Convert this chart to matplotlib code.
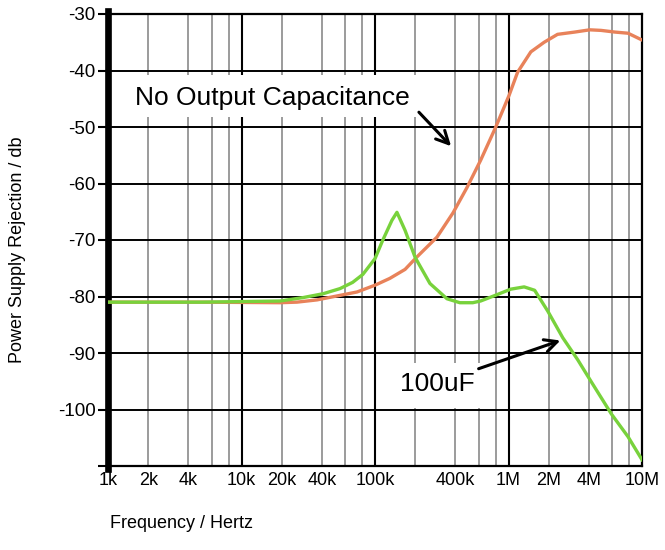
import matplotlib
matplotlib.use("Agg")
import matplotlib.pyplot as plt
from matplotlib.patches import Rectangle
import numpy as np

plt.rcParams['font.family'] = ['Liberation Sans', 'DejaVu Sans']

# Data
freq_no_cap = [1e3, 5e3, 19.4e3, 26e3, 36.8e3, 54.7e3, 73.3e3, 100e3, 129e3, 168e3, 206e3,
               291e3, 384e3, 489e3, 618e3, 803e3, 1.01e6, 1.17e6, 1.47e6, 1.85e6, 2.33e6,
               3.13e6, 4.06e6, 4.93e6, 6.28e6, 7.85e6, 10e6]
psr_no_cap = [-81.0, -81.0, -81.1, -81.0, -80.6, -79.8, -79.2, -78.0, -76.8, -75.2, -73.0,
              -69.5, -65.2, -60.7, -55.9, -50.0, -44.4, -40.3, -36.7, -35.0, -33.6,
              -33.2, -32.8, -32.9, -33.2, -33.4, -34.6]

freq_100uF = [1e3, 5e3, 19.4e3, 28.8e3, 41e3, 54.7e3, 68e3, 81e3, 100e3, 114e3, 134e3, 146e3,
              168e3, 200e3, 258e3, 346e3, 432e3, 540e3, 618e3, 776e3, 1.04e6, 1.31e6, 1.57e6,
              1.97e6, 2.55e6, 3.3e6, 4.17e6, 5.9e6, 7.85e6, 10e6]
psr_100uF = [-81.0, -81.0, -80.8, -80.2, -79.5, -78.6, -77.5, -76.1, -73.3, -70.1, -66.5, -65.1,
             -68.3, -73.1, -77.7, -80.4, -81.1, -81.1, -80.8, -79.9, -78.7, -78.3, -78.9,
             -82.6, -87.3, -91.2, -95.1, -100.8, -104.8, -108.9]

x_tick_vals = [1e3, 2e3, 4e3, 1e4, 2e4, 4e4, 1e5, 4e5, 1e6, 2e6, 4e6, 1e7]
x_tick_labels = ['1k', '2k', '4k', '10k', '20k', '40k', '100k', '400k', '1M', '2M', '4M', '10M']
y_tick_vals = [-30, -40, -50, -60, -70, -80, -90, -100, -110]
y_tick_labels = ['-30', '-40', '-50', '-60', '-70', '-80', '-90', '-100', '']

fig = plt.figure(figsize=(6.65, 5.5), dpi=100)
ax = fig.add_axes([108/665, 1 - 466/550, (642-108)/665, (466-14)/550])
ax.set_xscale('log')
ax.set_xlim(1e3, 1e7)
ax.set_ylim(-110, -30)

# grid: minor grey at 2,4,6,8 of each decade; decades black; horizontal black every 10
for dec in [1e3, 1e4, 1e5, 1e6]:
    for m in [2, 4, 6, 8]:
        ax.axvline(dec*m, color='#8a8a8a', lw=1.2, zorder=1)
for dec in [1e4, 1e5, 1e6]:
    ax.axvline(dec, color='black', lw=1.5, zorder=1)
for y in range(-100, -30, 10):
    ax.axhline(y, color='black', lw=1.4, zorder=1)

# white label backgrounds (axes fraction)
ax.add_patch(Rectangle((0.004, 0.772), 0.59, 0.093, transform=ax.transAxes,
                       facecolor='white', edgecolor='none', zorder=2))
ax.add_patch(Rectangle((0.513, 0.128), 0.187, 0.100, transform=ax.transAxes,
                       facecolor='white', edgecolor='none', zorder=2))

ax.plot(freq_no_cap, psr_no_cap, color='#E8825A', lw=2.4, zorder=3)
ax.plot(freq_100uF, psr_100uF, color='#78D23C', lw=2.4, zorder=4)

ax.set_xticks(x_tick_vals)
ax.set_xticklabels(x_tick_labels, fontsize=13)
ax.xaxis.set_minor_locator(matplotlib.ticker.NullLocator())
ax.tick_params(axis='x', length=0, pad=4)
ax.set_yticks(y_tick_vals)
ax.set_yticklabels(y_tick_labels, fontsize=13.5)
ax.tick_params(axis='y', length=7, width=1.5, direction='out', pad=2)

for side in ['top', 'right', 'bottom']:
    ax.spines[side].set_linewidth(1.6)
    ax.spines[side].set_color('black')
ax.spines['left'].set_linewidth(4.8)
ax.spines['left'].set_bounds(-110.6, -29.5)

ax.annotate('', xy=(10**(3 + (453-108)/133.5), -30 - (148-14)/5.64),
            xytext=(10**(3 + (417-108)/133.5), -30 - (110-14)/5.64),
            arrowprops=dict(arrowstyle='->,head_length=0.9,head_width=0.45', color='black', lw=2.2),
            zorder=6)
ax.text(10**(3 + (135-108)/133.5), -30 - (98-14)/5.64, 'No Output Capacitance',
        fontsize=19, ha='left', va='center', zorder=7)

ax.annotate('', xy=(10**(3 + (563-108)/133.5), -30 - (339-14)/5.64),
            xytext=(10**(3 + (476-108)/133.5), -30 - (369-14)/5.64),
            arrowprops=dict(arrowstyle='->,head_length=0.9,head_width=0.45', color='black', lw=2.2),
            zorder=6)
ax.text(10**(3 + (400-108)/133.5), -30 - (383-14)/5.64, '100uF',
        fontsize=19, ha='left', va='center', zorder=7)

fig.text(110/665, 1 - 523/550, 'Frequency / Hertz', fontsize=13, ha='left', va='center')
fig.text(18/665, 1 - 250/550, 'Power Supply Rejection / db', fontsize=13, ha='center',
         va='center', rotation=90)

fig.savefig('out.png', dpi=100)
